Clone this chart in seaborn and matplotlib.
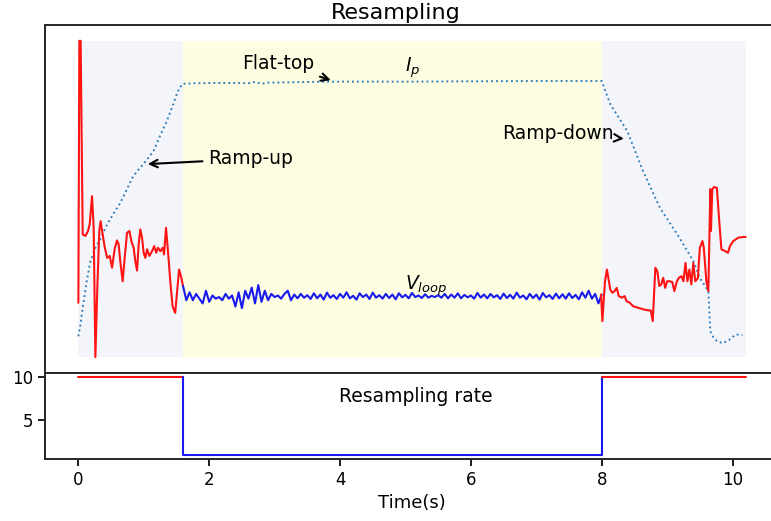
import numpy as np
import pandas as pd
import matplotlib
matplotlib.use("Agg")
import matplotlib.pyplot as plt
import seaborn as sns

# ---------------- data ----------------
# Plasma current (normalised)
ip_t = [0.0, 0.03, 0.06, 0.12, 0.18, 0.26, 0.35, 0.44, 0.54, 0.64, 0.74, 0.84, 0.95,
        1.05, 1.15, 1.25, 1.35, 1.45, 1.52, 1.59, 1.8, 2.2, 2.6, 2.7, 2.8, 2.9, 3.0,
        3.5, 4.0, 5.0, 6.0, 7.0, 7.5, 8.0, 8.13, 8.39, 8.63, 8.89, 9.15, 9.4, 9.5,
        9.63, 9.66, 9.7, 9.76, 9.85, 9.95, 10.05, 10.15]
ip_v = [0.066, 0.10, 0.146, 0.23, 0.30, 0.345, 0.38, 0.42, 0.455, 0.487, 0.53, 0.573, 0.60,
        0.625, 0.652, 0.70, 0.745, 0.80, 0.84, 0.864, 0.866, 0.867, 0.866, 0.870, 0.864, 0.868, 0.868,
        0.870, 0.871, 0.871, 0.872, 0.873, 0.873, 0.873, 0.80, 0.715, 0.589, 0.472, 0.39, 0.304, 0.25,
        0.209, 0.082, 0.065, 0.051, 0.044, 0.055, 0.072, 0.07]

# Loop voltage, ramp-up phase (red)
vl_up_t = [0.00, 0.015, 0.035, 0.066, 0.107, 0.148, 0.173, 0.209, 0.234, 0.26, 0.29, 0.32,
           0.34, 0.37, 0.40, 0.44, 0.48, 0.515, 0.555, 0.59, 0.616, 0.64, 0.677, 0.708,
           0.744, 0.78, 0.81, 0.845, 0.87, 0.897, 0.922, 0.947, 0.973, 0.998, 1.024, 1.05,
           1.085, 1.126, 1.16, 1.19, 1.218, 1.253, 1.29, 1.31, 1.34, 1.37, 1.405, 1.44,
           1.48, 1.51, 1.54, 1.574, 1.60]
vl_up_v = [0.172, 1.0, 1.0, 0.388, 0.383, 0.399, 0.42, 0.509, 0.409, 0.0, 0.22, 0.399,
           0.43, 0.39, 0.351, 0.314, 0.32, 0.283, 0.342, 0.369, 0.357, 0.304, 0.24, 0.314,
           0.393, 0.399, 0.367, 0.346, 0.304, 0.274, 0.357, 0.404, 0.378, 0.33, 0.314, 0.341,
           0.32, 0.335, 0.351, 0.33, 0.346, 0.335, 0.346, 0.325, 0.409, 0.335, 0.24, 0.161,
           0.14, 0.209, 0.277, 0.251, 0.225]

# Loop voltage, flat-top phase (blue), sampled every 0.05 s from 1.60 s to 8.00 s
vl_flat_v = [0.225, 0.180, 0.205, 0.180, 0.200, 0.185, 0.170, 0.210, 0.175, 0.195,
             0.185, 0.190, 0.180, 0.200, 0.185, 0.195, 0.160, 0.205, 0.155, 0.210,
             0.185, 0.220, 0.170, 0.228, 0.175, 0.210, 0.180, 0.200, 0.190, 0.195,
             0.185, 0.200, 0.210, 0.180, 0.198, 0.186, 0.200, 0.188, 0.196, 0.184,
             0.202, 0.186, 0.198, 0.182, 0.204, 0.188, 0.196, 0.184, 0.200, 0.188,
             0.205, 0.186, 0.194, 0.182, 0.202, 0.190, 0.198, 0.184, 0.204, 0.188,
             0.196, 0.185, 0.200, 0.187, 0.198, 0.183, 0.202, 0.189, 0.197, 0.186,
             0.203, 0.190, 0.195, 0.187, 0.199, 0.188, 0.194, 0.190, 0.196, 0.188,
             0.200, 0.186, 0.198, 0.188, 0.202, 0.186, 0.197, 0.189, 0.195, 0.185,
             0.203, 0.188, 0.198, 0.186, 0.200, 0.189, 0.196, 0.184, 0.201, 0.187,
             0.197, 0.185, 0.204, 0.188, 0.195, 0.183, 0.200, 0.187, 0.198, 0.182,
             0.203, 0.189, 0.196, 0.184, 0.201, 0.186, 0.199, 0.185, 0.202, 0.187,
             0.197, 0.183, 0.205, 0.188, 0.210, 0.185, 0.200, 0.170, 0.198]
vl_flat_t = np.linspace(1.6, 8.0, len(vl_flat_v))

# Loop voltage, ramp-down phase (red)
vl_down_t = [7.99, 8.01, 8.05, 8.08, 8.11, 8.13, 8.16, 8.19, 8.23, 8.26, 8.31, 8.35, 8.38,
             8.43, 8.48, 8.56, 8.64, 8.71, 8.75, 8.78, 8.82, 8.85, 8.88, 8.91, 8.94, 8.97,
             9.00, 9.04, 9.08, 9.11, 9.15, 9.18, 9.22, 9.25, 9.28, 9.31, 9.34, 9.37, 9.40,
             9.43, 9.47, 9.50, 9.54, 9.56, 9.60, 9.63, 9.66, 9.67, 9.69, 9.72, 9.76, 9.80,
             9.83, 9.88, 9.93, 9.96, 10.01, 10.09, 10.17, 10.20]
vl_down_v = [0.198, 0.114, 0.24, 0.277, 0.24, 0.214, 0.204, 0.207, 0.219, 0.193, 0.188, 0.193, 0.177,
             0.172, 0.161, 0.156, 0.151, 0.148, 0.148, 0.114, 0.283, 0.272, 0.225, 0.23, 0.251, 0.219,
             0.24, 0.24, 0.237, 0.209, 0.24, 0.251, 0.256, 0.24, 0.298, 0.24, 0.277, 0.23, 0.298,
             0.24, 0.25, 0.346, 0.367, 0.346, 0.24, 0.209, 0.531, 0.399, 0.531, 0.538, 0.535, 0.42,
             0.341, 0.336, 0.33, 0.351, 0.367, 0.378, 0.38, 0.38]

# Resampling rate
rate_fast_t = [1.6, 1.6, 8.0, 8.0]
rate_fast_v = [10, 1, 1, 10]
rate_up_t = [0.0, 1.6]
rate_down_t = [8.0, 10.2]
rate_slow_v = [10, 10]

# Phase boundaries
phase_edges = [0.0, 1.6, 8.0, 10.2]
phase_colors = ["#f4f5fb", "#fdfde2", "#f4f5fb"]
rate_ticks = [5, 10]

# ---------------- figure ----------------
sns.set_theme(style="ticks")
plt.rcParams["font.family"] = ["DejaVu Sans"]
plt.rcParams["text.color"] = "black"
plt.rcParams["xtick.color"] = "black"
plt.rcParams["ytick.color"] = "black"
plt.rcParams["axes.labelcolor"] = "black"

W, H = 771, 521
fig = plt.figure(figsize=(W / 100, H / 100), dpi=100)
ax = fig.add_axes([45 / W, 1 - 373 / H, (779 - 45) / W, (373 - 25) / H])
ax2 = fig.add_axes([45 / W, 1 - 459 / H, (779 - 45) / W, (459 - 373) / H], sharex=ax)

for i in range(3):
    ax.fill_between([phase_edges[i], phase_edges[i + 1]], 0, 1,
                    color=phase_colors[i], linewidth=0, zorder=0)

red = "#ff1414"
blue = "#1a1aee"
sns.lineplot(x=ip_t, y=ip_v, ax=ax, color="#2a7ab8", linestyle=":", linewidth=1.35,
             sort=False, estimator=None)
sns.lineplot(x=vl_up_t, y=vl_up_v, ax=ax, color=red, linewidth=1.5,
             sort=False, estimator=None)
sns.lineplot(x=vl_flat_t, y=vl_flat_v, ax=ax, color=blue, linewidth=1.5,
             sort=False, estimator=None)
sns.lineplot(x=vl_down_t, y=vl_down_v, ax=ax, color=red, linewidth=1.5,
             sort=False, estimator=None)

ax.set_xlim(-0.51, 10.71)
ax.set_ylim(-0.05, 1.05)
ax.tick_params(left=False, bottom=False, labelleft=False, labelbottom=False)
ax.set_xlabel("")
ax.set_ylabel("")

fs = 13.5
arrow = dict(arrowstyle="->", color="black", lw=1.5)
ax.annotate("Ramp-up", xy=(1.02, 0.61), xytext=(1.99, 0.627), fontsize=fs,
            ha="left", va="center", arrowprops=arrow)
ax.annotate("Flat-top", xy=(3.9, 0.873), xytext=(3.05, 0.929), fontsize=fs,
            ha="center", va="center", arrowprops=arrow)
ax.annotate("Ramp-down", xy=(8.38, 0.69), xytext=(7.33, 0.708), fontsize=fs,
            ha="center", va="center", arrowprops=arrow)
ax.text(5.0, 0.915, "$I_p$", fontsize=fs, ha="left", va="center")
ax.text(5.0, 0.225, "$V_{loop}$", fontsize=fs, ha="left", va="center")

sns.lineplot(x=rate_up_t, y=rate_slow_v, ax=ax2, color=red, linewidth=1.5,
             sort=False, estimator=None)
sns.lineplot(x=rate_fast_t, y=rate_fast_v, ax=ax2, color=blue, linewidth=1.5,
             sort=False, estimator=None)
sns.lineplot(x=rate_down_t, y=rate_slow_v, ax=ax2, color=red, linewidth=1.5,
             sort=False, estimator=None)
ax2.set_ylim(0.55, 10.45)
ax2.set_yticks(rate_ticks)
ax2.tick_params(labelsize=12, length=5, width=1.25)
ax2.set_xticks([0, 2, 4, 6, 8, 10])
ax2.set_xlabel("Time(s)", fontsize=13)
ax2.set_ylabel("")
ax2.text(5.16, 7.8, "Resampling rate", fontsize=fs, ha="center", va="center")

for a in (ax, ax2):
    for s in a.spines.values():
        s.set_visible(True)
        s.set_color("#262626")
        s.set_linewidth(1.4)

fig.text(395.5 / W, 1 - 13 / H, "Resampling", ha="center", va="center", fontsize=16)

fig.savefig("out.png", dpi=100)
